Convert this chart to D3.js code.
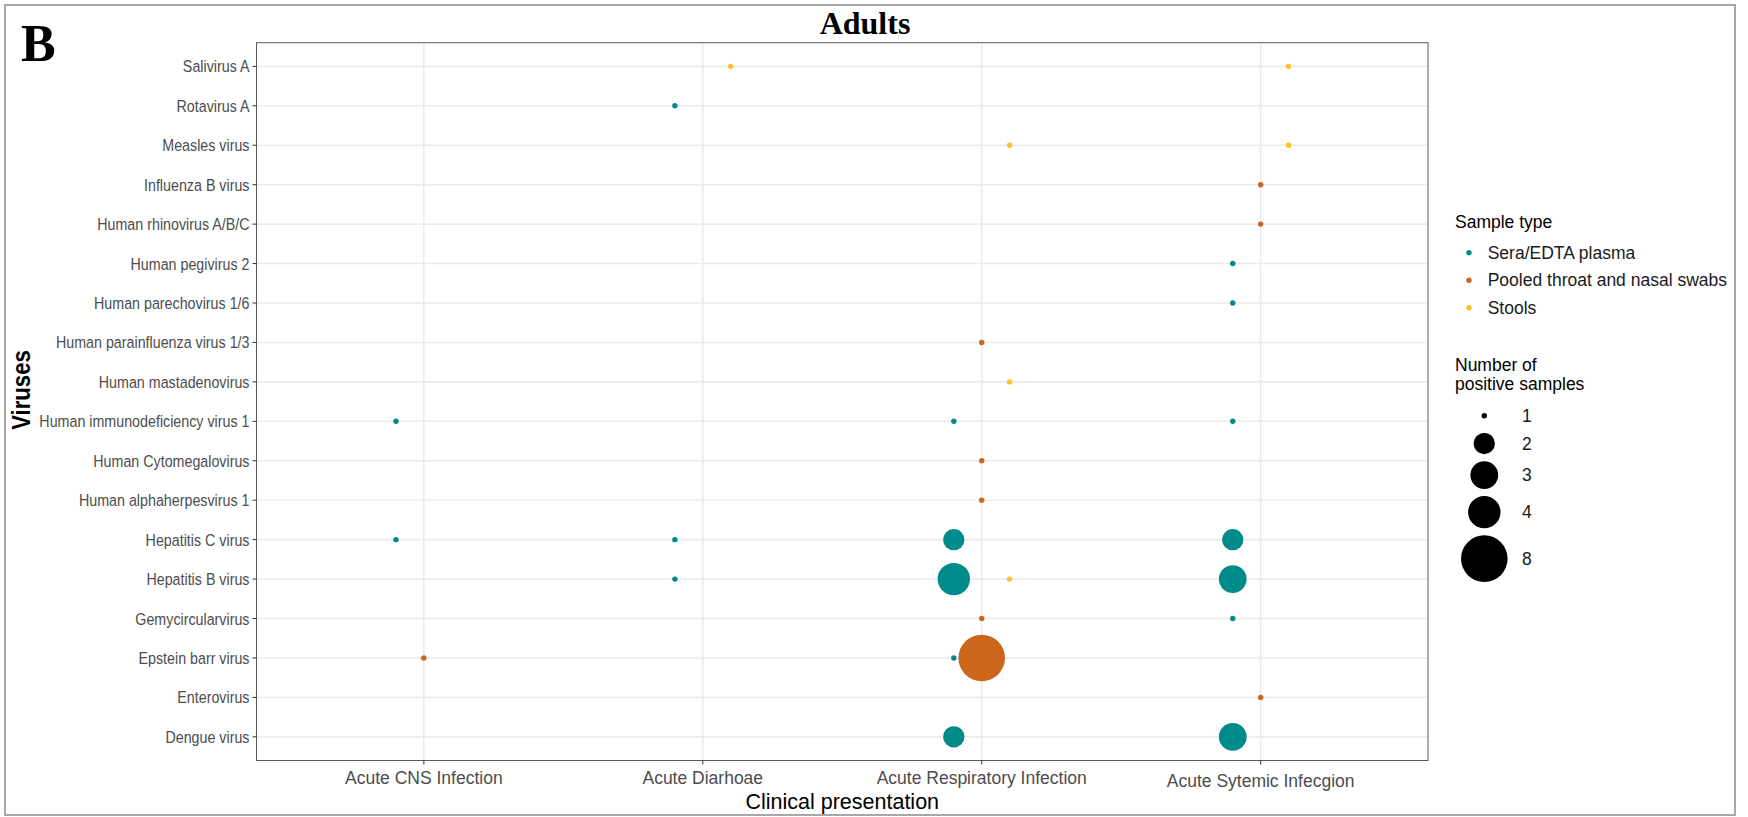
<!DOCTYPE html>
<html>
  <head>
    <meta charset="utf-8">
    <style type="text/css">
      body { margin: 0; background: #fff; }
      svg { display: block; font-family: "Liberation Sans", Arial, sans-serif; }
      .grid line { stroke: #ebebeb; stroke-width: 1.6; }
      .tick-line { stroke: #333; stroke-width: 1; }
      .ylab { font-size: 17px; fill: #4d4d4d; }
      .xlab { font-size: 17.5px; fill: #4d4d4d; }
      .leg-title { font-size: 17.5px; fill: #000; }
      .leg-text { font-size: 17.5px; fill: #1a1a1a; }
    </style>
  </head>
  <body>
    <script src="https://d3js.org/d3.v7.min.js"></script>
    <script>
      // categories, top row first
      var viruses = [
        "Salivirus A", "Rotavirus A", "Measles virus", "Influenza B virus",
        "Human rhinovirus A/B/C", "Human pegivirus 2", "Human parechovirus 1/6",
        "Human parainfluenza virus 1/3", "Human mastadenovirus",
        "Human immunodeficiency virus 1", "Human Cytomegalovirus",
        "Human alphaherpesvirus 1", "Hepatitis C virus", "Hepatitis B virus",
        "Gemycircularvirus", "Epstein barr virus", "Enterovirus", "Dengue virus"
      ];
      var presentations = ["Acute CNS Infection", "Acute Diarhoae",
        "Acute Respiratory Infection", "Acute Sytemic Infecgion"];
      var sampleTypes = ["Sera/EDTA plasma", "Pooled throat and nasal swabs", "Stools"];
      var sizeBreaks = [1, 2, 3, 4, 8];

      // [virus, presentation, sample type, number of positive samples]
      var positives = [
        ["Salivirus A", "Acute Diarhoae", "Stools", 1],
        ["Salivirus A", "Acute Sytemic Infecgion", "Stools", 1],
        ["Rotavirus A", "Acute Diarhoae", "Sera/EDTA plasma", 1],
        ["Measles virus", "Acute Respiratory Infection", "Stools", 1],
        ["Measles virus", "Acute Sytemic Infecgion", "Stools", 1],
        ["Influenza B virus", "Acute Sytemic Infecgion", "Pooled throat and nasal swabs", 1],
        ["Human rhinovirus A/B/C", "Acute Sytemic Infecgion", "Pooled throat and nasal swabs", 1],
        ["Human pegivirus 2", "Acute Sytemic Infecgion", "Sera/EDTA plasma", 1],
        ["Human parechovirus 1/6", "Acute Sytemic Infecgion", "Sera/EDTA plasma", 1],
        ["Human parainfluenza virus 1/3", "Acute Respiratory Infection", "Pooled throat and nasal swabs", 1],
        ["Human mastadenovirus", "Acute Respiratory Infection", "Stools", 1],
        ["Human immunodeficiency virus 1", "Acute CNS Infection", "Sera/EDTA plasma", 1],
        ["Human immunodeficiency virus 1", "Acute Respiratory Infection", "Sera/EDTA plasma", 1],
        ["Human immunodeficiency virus 1", "Acute Sytemic Infecgion", "Sera/EDTA plasma", 1],
        ["Human Cytomegalovirus", "Acute Respiratory Infection", "Pooled throat and nasal swabs", 1],
        ["Human alphaherpesvirus 1", "Acute Respiratory Infection", "Pooled throat and nasal swabs", 1],
        ["Hepatitis C virus", "Acute CNS Infection", "Sera/EDTA plasma", 1],
        ["Hepatitis C virus", "Acute Diarhoae", "Sera/EDTA plasma", 1],
        ["Hepatitis C virus", "Acute Respiratory Infection", "Sera/EDTA plasma", 2],
        ["Hepatitis C virus", "Acute Sytemic Infecgion", "Sera/EDTA plasma", 2],
        ["Hepatitis B virus", "Acute Diarhoae", "Sera/EDTA plasma", 1],
        ["Hepatitis B virus", "Acute Respiratory Infection", "Sera/EDTA plasma", 4],
        ["Hepatitis B virus", "Acute Respiratory Infection", "Stools", 1],
        ["Hepatitis B virus", "Acute Sytemic Infecgion", "Sera/EDTA plasma", 3],
        ["Gemycircularvirus", "Acute Respiratory Infection", "Pooled throat and nasal swabs", 1],
        ["Gemycircularvirus", "Acute Sytemic Infecgion", "Sera/EDTA plasma", 1],
        ["Epstein barr virus", "Acute CNS Infection", "Pooled throat and nasal swabs", 1],
        ["Epstein barr virus", "Acute Respiratory Infection", "Sera/EDTA plasma", 1],
        ["Epstein barr virus", "Acute Respiratory Infection", "Pooled throat and nasal swabs", 8],
        ["Enterovirus", "Acute Sytemic Infecgion", "Pooled throat and nasal swabs", 1],
        ["Dengue virus", "Acute Respiratory Infection", "Sera/EDTA plasma", 2],
        ["Dengue virus", "Acute Sytemic Infecgion", "Sera/EDTA plasma", 3]
      ];

      var width = 1748, height = 817;
      var panel = {left: 256.5, right: 1428, top: 42.7, bottom: 760.5};

      var svg = d3.select("body").append("svg")
          .attr("width", width)
          .attr("height", height);

      // figure frame
      svg.append("rect")
          .attr("x", 5).attr("y", 5)
          .attr("width", 1730).attr("height", 810)
          .attr("fill", "none")
          .attr("stroke", "#a8a8a8")
          .attr("stroke-width", 2);

      var x = d3.scalePoint().domain(presentations)
          .range([panel.left, panel.right]).padding(0.6);
      var y = d3.scalePoint().domain(viruses)
          .range([panel.top, panel.bottom]).padding(0.6);
      var dodge = d3.scalePoint().domain(sampleTypes)
          .range([-0.1 * x.step(), 0.1 * x.step()]);
      var color = d3.scaleOrdinal().domain(sampleTypes)
          .range(["#008b8b", "#cd661d", "#ffc125"]);
      var r = d3.scaleLinear().domain(sizeBreaks)
          .range([2.7, 10.6, 13.9, 16.2, 23.3]);

      // grid
      var grid = svg.append("g").attr("class", "grid");
      grid.selectAll(".gy").data(viruses).enter().append("line")
          .attr("x1", panel.left).attr("x2", panel.right)
          .attr("y1", function(d) { return y(d); })
          .attr("y2", function(d) { return y(d); });
      grid.selectAll(".gx").data(presentations).enter().append("line")
          .attr("y1", panel.top).attr("y2", panel.bottom)
          .attr("x1", function(d) { return x(d); })
          .attr("x2", function(d) { return x(d); });

      // points, big ones first
      var pts = positives.slice().sort(function(a, b) { return b[3] - a[3]; });
      svg.append("g").selectAll("circle").data(pts).enter().append("circle")
          .attr("cx", function(d) { return x(d[1]) + dodge(d[2]); })
          .attr("cy", function(d) { return y(d[0]); })
          .attr("r", function(d) { return r(d[3]); })
          .attr("fill", function(d) { return color(d[2]); });

      // panel border
      svg.append("rect")
          .attr("x", panel.left).attr("y", panel.top)
          .attr("width", panel.right - panel.left)
          .attr("height", panel.bottom - panel.top)
          .attr("fill", "none")
          .attr("stroke", "#5a5a5a")
          .attr("stroke-width", 1);

      // y axis
      var yAx = svg.append("g");
      yAx.selectAll("line").data(viruses).enter().append("line")
          .attr("class", "tick-line")
          .attr("x1", panel.left - 4).attr("x2", panel.left)
          .attr("y1", function(d) { return y(d); })
          .attr("y2", function(d) { return y(d); });
      yAx.selectAll("text").data(viruses).enter().append("text")
          .attr("class", "ylab")
          .attr("transform", function(d) {
            return "translate(" + (panel.left - 7) + "," + (y(d) + 6) + ") scale(0.84,1)";
          })
          .attr("text-anchor", "end")
          .text(function(d) { return d; });

      // x axis
      var xAx = svg.append("g");
      xAx.selectAll("line").data(presentations).enter().append("line")
          .attr("class", "tick-line")
          .attr("y1", panel.bottom).attr("y2", panel.bottom + 4)
          .attr("x1", function(d) { return x(d); })
          .attr("x2", function(d) { return x(d); });
      xAx.selectAll("text").data(presentations).enter().append("text")
          .attr("class", "xlab")
          .attr("x", function(d) { return x(d); })
          .attr("y", function(d, i) { return i == 3 ? 786.5 : 784; })
          .attr("text-anchor", "middle")
          .text(function(d) { return d; });

      // axis titles
      svg.append("text")
          .attr("x", (panel.left + panel.right) / 2)
          .attr("y", 809)
          .attr("text-anchor", "middle")
          .style("font-size", "21.5px")
          .text("Clinical presentation");

      svg.append("text")
          .attr("transform", "translate(30,390) rotate(-90) scale(0.885,1)")
          .attr("text-anchor", "middle")
          .style("font-size", "25px")
          .style("font-weight", "bold")
          .text("Viruses");

      // titles
      svg.append("text")
          .attr("x", 865).attr("y", 34)
          .attr("text-anchor", "middle")
          .style("font-family", "'Liberation Serif', 'Times New Roman', serif")
          .style("font-weight", "bold")
          .style("font-size", "32px")
          .text("Adults");

      svg.append("text")
          .attr("x", 21).attr("y", 61)
          .style("font-family", "'Liberation Serif', 'Times New Roman', serif")
          .style("font-weight", "bold")
          .style("font-size", "52px")
          .text("B");

      // legend: sample type
      var leg = svg.append("g");
      leg.append("text")
          .attr("class", "leg-title")
          .attr("x", 1455).attr("y", 228)
          .text("Sample type");
      var keys = leg.selectAll(".ck").data(sampleTypes).enter().append("g")
          .attr("transform", function(d, i) { return "translate(1469," + (252.7 + i * 27.5) + ")"; });
      keys.append("circle").attr("r", r(1)).attr("fill", function(d) { return color(d); });
      keys.append("text").attr("class", "leg-text")
          .attr("x", 18.7).attr("y", 6)
          .text(function(d) { return d; });

      // legend: number of positive samples
      leg.append("text")
          .attr("class", "leg-title")
          .attr("x", 1455).attr("y", 370.5)
          .text("Number of");
      leg.append("text")
          .attr("class", "leg-title")
          .attr("x", 1455).attr("y", 390.3)
          .text("positive samples");

      var keyY = [], cy = 415.7;
      sizeBreaks.forEach(function(b, i) {
        if (i > 0) {
          var hPrev = Math.max(27.5, 2 * r(sizeBreaks[i - 1]) + 7);
          var h = Math.max(27.5, 2 * r(b) + 7);
          cy += (hPrev + h) / 2;
        }
        keyY.push(cy);
      });
      var sk = leg.selectAll(".sk").data(sizeBreaks).enter().append("g")
          .attr("transform", function(d, i) { return "translate(1484.3," + keyY[i] + ")"; });
      sk.append("circle").attr("r", function(d) { return r(d); }).attr("fill", "#000");
      sk.append("text").attr("class", "leg-text")
          .attr("x", 37.7).attr("y", 6)
          .text(function(d) { return d; });
    </script>
  </body>
</html>
